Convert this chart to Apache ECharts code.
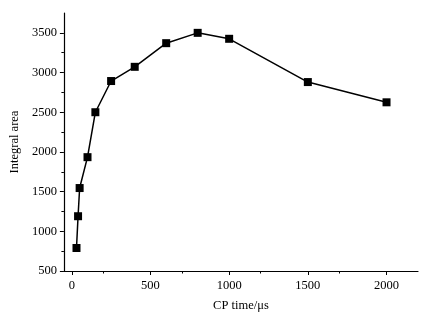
<!DOCTYPE html>
<html><head><meta charset="utf-8">
<script src="https://cdn.jsdelivr.net/npm/echarts@6/dist/echarts.min.js"></script>
<style>html,body{margin:0;padding:0;background:#fff}#c{width:427px;height:317px}</style>
</head><body><div id="c"></div>
<script>
const cpTime = [30, 40, 50, 100, 150, 250, 400, 600, 800, 1000, 1500, 2000];
const integralArea = [790, 1190, 1545, 1934, 2500, 2893, 3072, 3370, 3500, 3425, 2880, 2625];
const xTicks = [0, 500, 1000, 1500, 2000];
const yTicks = [500, 1000, 1500, 2000, 2500, 3000, 3500];

const chart = echarts.init(document.getElementById('c'), null, {renderer: 'canvas'});
const font = 'Liberation Serif';
chart.setOption({
  animation: false,
  grid: {left: 63, right: 9, top: 13, bottom: 46},
  xAxis: {
    type: 'value', min: -50, max: 2200, interval: 500,
    name: 'CP time/μs', nameLocation: 'middle', nameGap: 28,
    nameTextStyle: {fontFamily: font, fontSize: 12.5, color: '#000'},
    axisLine: {onZero: false, lineStyle: {color: '#000', width: 1.2}},
    axisTick: {show: true, length: 4, lineStyle: {color: '#000'},
      customValues: xTicks},
    minorTick: {show: true, splitNumber: 2, length: 2.5, lineStyle: {color: '#000'}},
    axisLabel: {fontFamily: font, fontSize: 12.5, color: '#000', margin: 8,
      customValues: xTicks, formatter: v => String(v)},
    splitLine: {show: false}
  },
  yAxis: {
    type: 'value', min: 500, max: 3750, interval: 500,
    name: 'Integral area', nameLocation: 'middle', nameGap: 37,
    nameTextStyle: {fontFamily: font, fontSize: 12.5, color: '#000'},
    axisLine: {show: true, onZero: false, lineStyle: {color: '#000', width: 1.2}},
    axisTick: {show: true, length: 4, lineStyle: {color: '#000'},
      customValues: yTicks},
    minorTick: {show: true, splitNumber: 2, length: 2.5, lineStyle: {color: '#000'}},
    axisLabel: {fontFamily: font, fontSize: 12.5, color: '#000', margin: 7,
      customValues: yTicks, formatter: v => String(v)},
    splitLine: {show: false}
  },
  series: [{
    type: 'line',
    data: cpTime.map((x, i) => [x, integralArea[i]]),
    symbol: 'rect', symbolSize: 8,
    itemStyle: {color: '#000'},
    lineStyle: {color: '#000', width: 1.5}
  }]
});
</script></body></html>
